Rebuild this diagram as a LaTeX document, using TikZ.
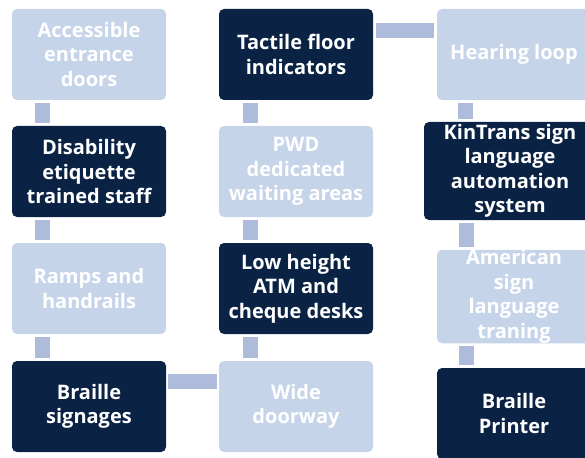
\documentclass[tikz,border=0pt]{standalone}
\usepackage{fontspec}
\setmainfont{Open Sans}
\usetikzlibrary{positioning,calc}
\definecolor{navy}{HTML}{0A2244}
\definecolor{pale}{HTML}{C6D4EA}
\definecolor{bar}{HTML}{AEBBDB}
\tikzset{
  box/.style={rounded corners=5pt, align=center, text=white, inner sep=0pt,
    font=\bfseries\fontsize{20}{24.5}\selectfont,
    minimum width=154pt, minimum height=91pt},
  lite/.style={box, fill=pale},
  dark/.style={box, fill=navy},
  link/.style={draw=bar, line width=15pt, shorten <=3pt, shorten >=3pt}
}

\begin{document}
\begin{tikzpicture}[x=1pt,y=-1pt]
   \path[use as bounding box, clip] (0,0) rectangle (585,457);
   % first column
   \node[lite] (door) at (89,54.5) {Accessible\\entrance\\doors};
   \node[dark] (staff) at (89,171.5) {Disability\\etiquette\\trained staff};
   \node[lite] (ramp) at (89,288.5) {Ramps and\\handrails};
   \node[dark] (sign) at (89,406.5) {Braille\\signages};
   % second column
   \node[dark] (floor) at (296,54.5) {Tactile floor\\indicators};
   \node[lite] (wait) at (296,171.5) {PWD\\dedicated\\waiting areas};
   \node[dark] (atm) at (296,288.5) {Low height\\ATM and\\cheque desks};
   \node[lite] (wide) at (296,406.5) {Wide\\doorway};
   % third column
   \node[lite] (loop) at (514,54.5) {Hearing loop};
   \node[dark, minimum width=172pt, minimum height=98pt] (kin) at (510,171) {KinTrans sign\\language\\automation\\system};
   \node[lite] (asl) at (514,296.5) {American\\sign\\language\\traning};
   \node[dark] (print) at (514,413.5) {Braille\\Printer};
   % links
   \draw[link] ([xshift=30.5pt]door.south west) -- ([xshift=30.5pt]staff.north west);
   \draw[link] ([xshift=30.5pt]staff.south west) -- ([xshift=30.5pt]ramp.north west);
   \draw[link] ([xshift=30.5pt]ramp.south west) -- ([xshift=30.5pt]sign.north west);
   \draw[link] ([xshift=31.5pt]floor.south west) -- ([xshift=31.5pt]wait.north west);
   \draw[link] ([xshift=31.5pt]wait.south west) -- ([xshift=31.5pt]atm.north west);
   \draw[link] ([xshift=31.5pt]atm.south west) -- ([xshift=31.5pt]wide.north west);
   \draw[link] ([xshift=28.5pt]loop.south west) -- ([xshift=28.5pt]loop.south west |- kin.north);
   \draw[link] ([xshift=30pt]asl.north west |- kin.south) -- ([xshift=30pt]asl.north west);
   \draw[link] ([xshift=30pt]asl.south west) -- ([xshift=30pt]print.north west);
   \draw[link, shorten <=3pt, shorten >=3pt] ([yshift=-22pt]floor.north east) -- ([yshift=-22pt]loop.north west);
   \draw[link, shorten <=2pt, shorten >=2pt] ([yshift=-21pt]sign.north east) -- ([yshift=-21pt]wide.north west);
\end{tikzpicture}
\end{document}
